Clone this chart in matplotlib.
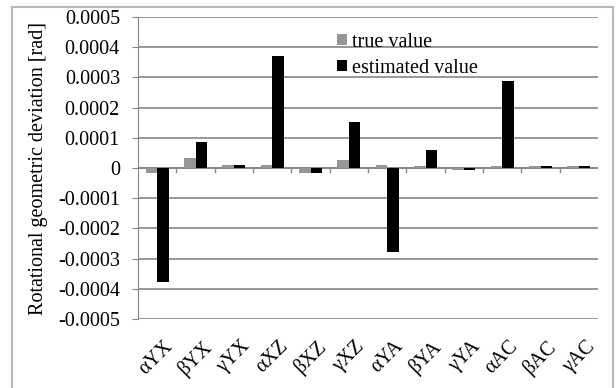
import numpy as np
import matplotlib.pyplot as plt
from matplotlib.lines import Line2D

plt.rcParams['font.family'] = ['Liberation Serif', 'DejaVu Serif']

# Etiquetas de los errores angulares
etiquetas = ['αYX', 'βYX', 'γYX', 'αXZ', 'βXZ', 'γXZ',
             'αYA', 'βYA', 'γYA', 'αAC', 'βAC', 'γAC']

# Valor real y valor estimado [rad]
valor_real = [-0.000015, 0.000033, 0.000010, 0.000010, -0.000018, 0.000027,
              0.000010, 0.000006, -0.000008, 0.000006, 0.000006, 0.000006]
valor_estimado = [-0.000377, 0.000086, 0.000010, 0.000370, -0.000018, 0.000151,
                  -0.000277, 0.000060, -0.000006, 0.000288, 0.000006, 0.000006]

gris = '#969696'
linea = '#868686'
fs = 14.5

fig = plt.figure(figsize=(6.16, 3.88), dpi=100)
ax = fig.add_axes([0.224, 0.178, 0.747, 0.778])

x = np.arange(len(etiquetas))
w = 0.3
ax.bar(x - w/2, valor_real, w, color=gris, label='true value', zorder=3)
ax.bar(x + w/2, valor_estimado, w, color='black', label='estimated value', zorder=3)

ax.set_xlim(-0.5, len(etiquetas) - 0.5)
ax.set_ylim(-0.0005, 0.0005)
ax.set_yticks(np.arange(-0.0005, 0.00051, 0.0001))
ax.set_yticklabels(['-0.0005', '-0.0004', '-0.0003', '-0.0002', '-0.0001', '0',
                    '0.0001', '0.0002', '0.0003', '0.0004', '0.0005'], fontsize=fs)
ax.yaxis.grid(True, color=linea, linewidth=1.2)
ax.set_axisbelow(True)

for lado in ['top', 'right', 'bottom']:
    ax.spines[lado].set_visible(False)
ax.spines['left'].set_color(linea)
ax.tick_params(axis='y', length=4, color=linea, pad=9)

# Eje horizontal en cero con marcas entre grupos
ax.axhline(0, color=linea, linewidth=1.2, zorder=2)
for xi in np.arange(0.5, len(etiquetas) - 0.5, 1):
    ax.plot([xi, xi], [0, -0.000012], color=linea, linewidth=1, zorder=2)
ax.tick_params(axis='x', length=0)
ax.set_xticks(x)
ax.set_xticklabels([])
for xi, et in zip(x, etiquetas):
    ax.text(xi + 0.17, -0.00056, et, rotation=45, ha='right', va='top',
            rotation_mode='anchor', fontsize=fs)

ax.set_ylabel('Rotational geometric deviation [rad]', fontsize=fs)
ax.yaxis.set_label_coords(-0.195, 0.5)

ax.legend(loc='upper left', bbox_to_anchor=(0.415, 0.975), frameon=False,
          fontsize=fs, handlelength=0.5, handleheight=0.5, handletextpad=0.25,
          labelspacing=0.35, borderaxespad=0)

# Marco exterior
for (xa, ya) in [([0.0195, 0.0195], [0, 0.982]), ([0.0195, 0.995], [0.982, 0.982]),
                 ([0.995, 0.995], [0.982, 0])]:
    fig.add_artist(Line2D(xa, ya, color='#b8b8b8', linewidth=1.5))

fig.savefig('out.png', dpi=100)
